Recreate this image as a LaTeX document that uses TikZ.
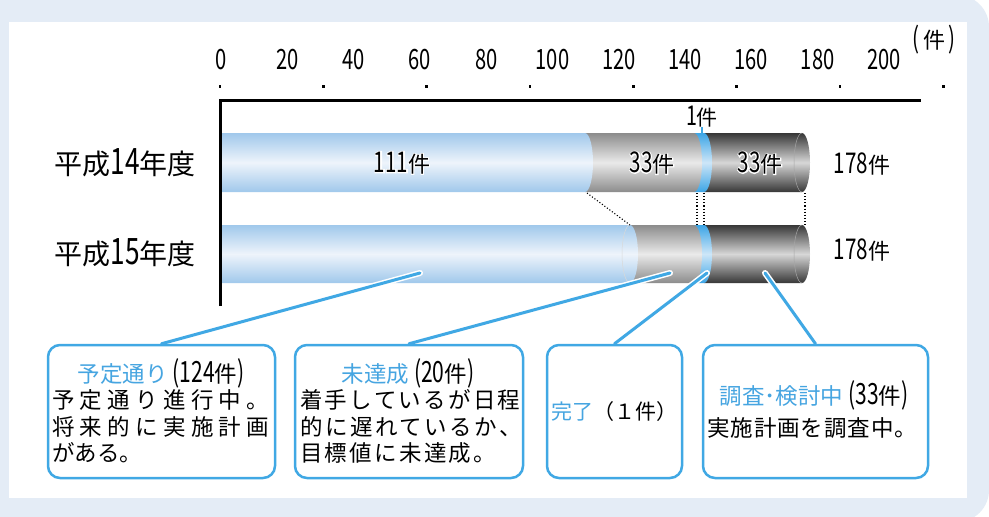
\documentclass[tikz,border=0pt]{standalone}
\usepackage{fontspec}
\setmainfont{Noto Sans CJK JP}
\newfontfamily\numf[Scale=1.3,FakeStretch=0.72]{Noto Sans CJK JP}
\newfontfamily\halom[FakeBold=8]{Noto Sans CJK JP}
\newfontfamily\halon[Scale=1.3,FakeStretch=0.72,FakeBold=8]{Noto Sans CJK JP}
\usetikzlibrary{calc}
\pgfdeclarelayer{top}
\pgfsetlayers{main,top}
\definecolor{bgblue}{RGB}{228,236,246}
\definecolor{cblue}{RGB}{64,168,228}
\definecolor{tblue}{RGB}{70,165,225}
\definecolor{barblue}{RGB}{160,200,235}
\definecolor{barbluemid}{RGB}{238,244,251}
\definecolor{bargray}{RGB}{140,140,140}
\definecolor{bargraymid}{RGB}{234,234,234}
\definecolor{bardark}{RGB}{55,55,55}
\definecolor{bardarkmid}{RGB}{215,215,215}
\definecolor{barband}{RGB}{60,165,230}
\definecolor{barbandmid}{RGB}{205,230,248}
\newcommand\hlk[1]{\leavevmode\rlap{\color{white}{\halon #1}{\halom 件}}{\numf #1}件}
\newcommand\seg[5]{\pgfmathsetmacro\segry{(#4-#3)/2}%
 \shade[#5] (#1,#3) -- (#2,#3) arc[start angle=-90,end angle=90,x radius=8,y radius=\segry] -- (#1,#4) -- cycle;}
\newcommand\rim[4]{\pgfmathsetmacro\segry{(#3-#2)/2}%
 \draw[#4, line width=0.5pt] (#1,#2) arc[start angle=-90,end angle=-270,x radius=8,y radius=\segry];}
\begin{document}
\begin{tikzpicture}[x=1pt,y=-1pt,
 box/.style={draw=cblue, line width=2.5pt, rounded corners=12pt, fill=white, inner sep=0pt},
 conn/.style={cblue, line width=3pt, line cap=round},
 halo/.style={white, line width=6pt, line cap=round},
 dotl/.style={black, line width=1.1pt, dotted},
 ticklab/.style={font={\fontsize{21.5pt}{25pt}\selectfont}, inner sep=0pt},
 numlab/.style={font={\fontsize{22pt}{26pt}\selectfont}, inner sep=0pt},
 yearlab/.style={font={\fontsize{28pt}{32pt}\selectfont}, inner sep=0pt},
 bt/.style={font={\fontsize{22.5pt}{26pt}\selectfont}, inner sep=0pt},
 bluebar/.style={top color=barblue, bottom color=barblue, middle color=barbluemid},
 graybar/.style={top color=bargray, bottom color=bargray, middle color=bargraymid},
 darkbar/.style={top color=bardark, bottom color=bardark, middle color=bardarkmid},
 bandbar/.style={top color=barband, bottom color=barband, middle color=barbandmid}]
\useasboundingbox (0,0) rectangle (989,517);
\fill[white] (0,0) rectangle (989,517);
\fill[bgblue, rounded corners=32pt] (-40,-5) rectangle (989,522);
\fill[white] (9,22) rectangle (967,498);
% axis
\foreach \v [count=\i from 0] in {0,20,40,60,80,100,120,140,160,180,200}
  \node[ticklab] (tl\i) at ({221+66.3*\i},60) {\numf\v};
\node[font={\fontsize{22pt}{26pt}\selectfont}, inner sep=0pt] (unit) at (934,40) {{\numf(}\,件\,{\numf)}};
\foreach \k in {0,...,7}
  \fill ({220+103.33*\k-1.3},85) rectangle ++(2.6,2.6);
% bars row 1
\seg{704}{802}{133}{192}{darkbar}
\rim{802}{133}{192}{gray!70}
\seg{694}{704}{133}{192}{bandbar}
\seg{585}{694}{133}{192}{graybar}
\seg{221}{585}{133}{192}{bluebar}
% bars row 2
\seg{704}{802}{225}{283}{darkbar}
\rim{802}{225}{283}{gray!70}
\seg{694}{704}{225}{283}{bandbar}
\seg{630}{694}{225}{283}{graybar}
\seg{221}{630}{225}{283}{bluebar}
\rim{630}{225}{283}{gray!30}
\draw[line width=3pt] (220,306) -- (220,100) -- (921,100);
% dotted guides
\coordinate (d1a) at (587,193); \coordinate (d1b) at (630,225);
\coordinate (d2a) at (697,193); \coordinate (d2b) at (697,225);
\coordinate (d3a) at (704,193); \coordinate (d3b) at (704,225);
\coordinate (d4a) at (805,193); \coordinate (d4b) at (805,225);
\draw[dotl] (d1a) -- (d1b);
\draw[dotl] (d2a) -- (d2b);
\draw[dotl] (d3a) -- (d3b);
\draw[dotl] (d4a) -- (d4b);
% labels
\node[yearlab] (y14) at (125,163) {平成{\numf 14}年度};
\node[yearlab] (y15) at (125,253) {平成{\numf 15}年度};
\node[numlab] (v111) at (402,163) {\hlk{111}};
\node[numlab] (v33a) at (652,163) {\hlk{33}};
\node[numlab] (v33b) at (760,163) {\hlk{33}};
\node[numlab] (t14) at (862,164) {{\numf 178}件};
\node[numlab] (t15) at (862,250) {{\numf 178}件};
\node[font={\fontsize{21pt}{25pt}\selectfont}, inner sep=0pt] (one) at (702,117) {{\numf 1}件};
\coordinate (onet) at (702,134);
\draw[cblue, line width=1.5pt] (702,127) -- (onet);
% bar anchor points
\coordinate (p1) at (420,273);
\coordinate (p2) at (670,273);
\coordinate (p3) at (707,273);
\coordinate (p4) at (765,273);
% boxes
\begin{pgfonlayer}{top}
\node[box, minimum width=227pt, minimum height=133pt] (b1) at (161.5,411.5) {};
\node[box, minimum width=228pt, minimum height=133pt] (b2) at (409,411.5) {};
\node[box, minimum width=135pt, minimum height=133pt] (b3) at (614.5,411.5) {};
\node[box, minimum width=225pt, minimum height=133pt] (b4) at (815.5,411.5) {};
\node[bt] (h1) at (161,373) {{\color{tblue}予定通り}{\numf\,(124}件{\numf)}};
\node[bt, anchor=west] (l11) at (52,400) {\hbox to 217pt{予\hfill 定\hfill 通\hfill り\hfill 進\hfill 行\hfill 中\hfill 。}};
\node[bt, anchor=west] (l12) at (52,427) {\hbox to 217pt{将\hfill 来\hfill 的\hfill に\hfill 実\hfill 施\hfill 計\hfill 画}};
\node[bt, anchor=west] (l13) at (52,453) {がある。};
\node[bt] (h2) at (408,373) {{\color{tblue}未達成}{\numf\,(20}件{\numf)}};
\node[bt, anchor=west] (l21) at (300,400) {\hbox to 220pt{着\hfill 手\hfill し\hfill て\hfill い\hfill る\hfill が\hfill 日\hfill 程}};
\node[bt, anchor=west] (l22) at (300,427) {\hbox to 222pt{的\hfill に\hfill 遅\hfill れ\hfill て\hfill い\hfill る\hfill か\hfill 、}};
\node[bt, anchor=west] (l23) at (300,453) {\hbox to 196pt{目\hfill 標\hfill 値\hfill に\hfill 未\hfill 達\hfill 成\hfill 。}};
\node[bt, font={\fontsize{21pt}{25pt}\selectfont}] (h3) at (614,412) {{\color{tblue}完了}（１件）};
\node[bt] (h4) at (814,395) {{\color{tblue}調査･検討中}{\numf\,(33}件{\numf)}};
\node[bt, anchor=west] (l41) at (707,428) {\hbox to 210pt{実\hfill 施\hfill 計\hfill 画\hfill を\hfill 調\hfill 査\hfill 中\hfill 。}};
\end{pgfonlayer}
% connectors
\draw[halo] (b1.north) -- (p1); \draw[conn] (b1.north) -- (p1);
\draw[halo] (b2.north) -- (p2); \draw[conn] (b2.north) -- (p2);
\draw[halo] (b3.north) -- (p3); \draw[conn] (b3.north) -- (p3);
\draw[halo] (b4.north) -- (p4); \draw[conn] (b4.north) -- (p4);
\end{tikzpicture}
\end{document}
